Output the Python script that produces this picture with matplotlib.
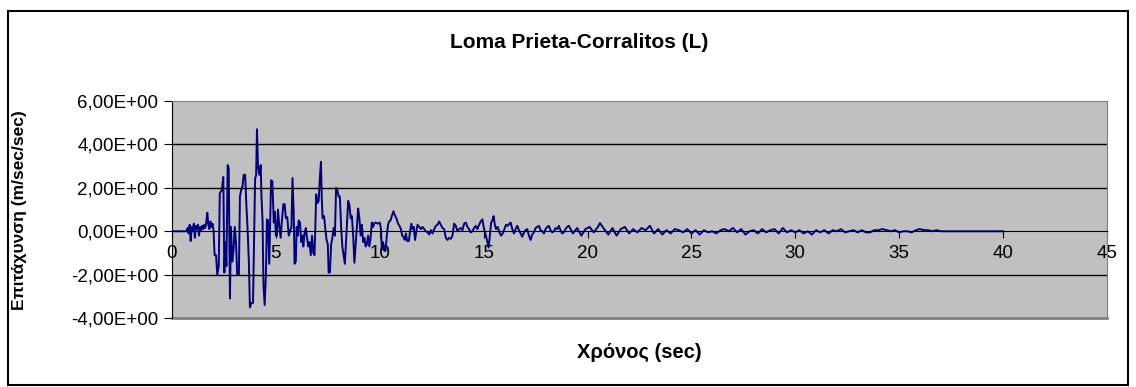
import matplotlib
matplotlib.use("Agg")
import matplotlib.pyplot as plt
from matplotlib.patches import Rectangle

plt.rcParams['font.family'] = ['Liberation Sans', 'DejaVu Sans']

# acceleration record, strong motion part (sec, m/sec/sec)
t_main = [0.00, 0.70, 0.75, 0.80, 0.85, 0.90, 0.95, 1.00, 1.05, 1.10, 1.15, 1.20, 1.25, 1.30,
          1.35, 1.40, 1.45, 1.50, 1.55, 1.60, 1.65, 1.70, 1.75, 1.80, 1.85, 1.90, 1.95, 2.00,
          2.05, 2.12, 2.18, 2.25, 2.30, 2.40, 2.47, 2.52, 2.57, 2.62, 2.68, 2.73, 2.79, 2.84,
          2.90, 2.96, 3.02, 3.08, 3.14, 3.22, 3.27, 3.33, 3.40, 3.45, 3.52, 3.58, 3.63, 3.70,
          3.75, 3.82, 3.90, 3.95, 4.00, 4.05, 4.09, 4.14, 4.20, 4.27, 4.31, 4.36, 4.40, 4.46,
          4.52, 4.57, 4.62, 4.68, 4.73, 4.77, 4.83, 4.90, 4.95, 5.00, 5.05, 5.10, 5.16, 5.23,
          5.30, 5.36, 5.42, 5.48, 5.55, 5.62, 5.68, 5.75, 5.80, 5.86, 5.90, 5.96, 6.00, 6.05,
          6.10, 6.16, 6.22, 6.28, 6.32, 6.38, 6.44, 6.50, 6.56, 6.62, 6.68, 6.74, 6.80, 6.86,
          6.90, 6.94, 7.00, 7.06, 7.12, 7.17, 7.21, 7.25, 7.32, 7.38, 7.44, 7.50, 7.54, 7.60,
          7.66, 7.72, 7.78, 7.84, 7.90, 7.96, 8.02, 8.08, 8.14, 8.20, 8.26, 8.32, 8.38, 8.44,
          8.48, 8.54, 8.60, 8.66, 8.72, 8.78, 8.84, 8.90, 8.96, 9.02, 9.08, 9.14, 9.20, 9.26,
          9.32, 9.38, 9.44, 9.50, 9.56, 9.62, 9.68, 9.74, 9.80, 9.90, 10.00, 10.06, 10.10,
          10.16, 10.22, 10.28, 10.34, 10.40, 10.45, 10.52, 10.58, 10.66, 10.72, 10.80, 10.88,
          10.95, 11.02, 11.08, 11.14, 11.20, 11.26, 11.32, 11.40, 11.46, 11.52, 11.58, 11.64,
          11.70, 11.76, 11.82, 11.90, 11.98, 12.06, 12.14, 12.22, 12.30, 12.38, 12.46, 12.54,
          12.62, 12.70, 12.78, 12.86, 12.94, 13.02, 13.10, 13.18, 13.26, 13.34, 13.42, 13.50,
          13.58, 13.66, 13.74, 13.82, 13.90, 13.98, 14.06, 14.14, 14.22, 14.30, 14.38, 14.46,
          14.54, 14.62, 14.70, 14.78, 14.86, 14.94, 15.00, 15.08, 15.16, 15.24, 15.30, 15.36,
          15.42, 15.48, 15.54, 15.60, 15.68, 15.76, 15.84, 15.92, 16.00, 16.08, 16.16, 16.24,
          16.30, 16.38, 16.46, 16.54, 16.62, 16.70, 16.78, 16.86, 16.94, 17.02, 17.10, 17.18,
          17.26, 17.34, 17.42, 17.50, 17.58, 17.66, 17.74, 17.82, 17.90, 17.98, 18.06, 18.14,
          18.22, 18.30, 18.38, 18.46, 18.54, 18.62, 18.70, 18.78, 18.86, 18.94, 19.02, 19.10]
a_main = [0.0, 0.0, 0.15, -0.1, 0.3, -0.45, 0.2, 0.05, 0.35, -0.3, 0.25, 0.1, 0.3, -0.2,
          0.2, 0.05, 0.25, 0.1, 0.3, 0.15, 0.4, 0.85, 0.3, 0.1, 0.45, 0.2, 0.35, 0.05,
          -1.1, -1.1, -2.0, -1.6, 1.75, 1.9, 2.5, -1.9, -0.5, -1.6, 3.05, 2.9, -3.1, 0.2,
          -1.4, -0.9, 0.2, -0.5, -2.0, -2.0, 1.6, 1.9, 2.1, 2.6, 2.6, 1.2, 0.3, -1.4,
          -3.5, -3.3, -3.3, -0.5, 2.4, 2.6, 4.7, 3.0, 2.6, 3.05, 1.5, 0.5, -2.4, -3.4,
          -2.0, 0.55, 0.5, -1.5, 0.6, 2.35, 2.3, 0.4, 0.9, -0.2, -0.2, 1.0, 0.3, -0.3,
          0.6, 1.25, 1.25, 0.6, 0.65, -0.2, 0.0, 0.2, 2.45, 0.8, -1.5, -1.4, 0.2, -0.2,
          0.5, 0.4, -0.5, -0.2, -0.7, -0.1, 0.15, -0.3, -0.7, -0.5, -1.1, -0.2, -1.0, -1.1,
          0.2, 1.7, 1.3, 1.4, 2.5, 3.2, 1.5, 0.6, 0.7, 0.1, -0.4, -0.6, -1.9, -1.9,
          -0.6, -0.3, 0.15, -0.2, 2.0, 1.9, 1.6, 1.6, 0.2, -0.7, -1.1, -1.5, -0.4, 0.7,
          1.4, 1.2, 0.6, 0.7, -0.2, -1.45, -0.6, 0.2, 1.05, 0.6, -0.2, 0.3, -0.5, -0.3,
          -0.7, -0.6, -0.2, -0.7, -0.3, 0.4, 0.2, 0.38, 0.4, 0.35, 0.4, 0.1, -0.85,
          -0.5, -0.9, -0.9, -0.2, 0.3, 0.45, 0.5, 0.7, 0.92, 0.75, 0.6, 0.35,
          0.25, 0.1, -0.2, -0.25, -0.4, -0.1, -0.45, -0.45, 0.0, 0.35, 0.1, 0.2,
          -0.4, 0.0, 0.3, 0.2, 0.1, 0.2, 0.1, 0.0, -0.05, -0.15, 0.05, -0.1,
          0.1, 0.25, 0.3, 0.45, 0.3, 0.15, 0.1, -0.3, -0.4, -0.3, -0.35, -0.2,
          0.35, 0.25, 0.0, 0.1, 0.15, 0.05, 0.35, 0.4, 0.2, 0.1, -0.05, 0.0,
          0.15, 0.25, 0.1, 0.3, 0.45, 0.55, 0.2, -0.1, -0.4, -0.75, -0.2, 0.4,
          0.5, 0.7, 0.3, 0.1, 0.2, -0.05, -0.2, -0.1, 0.1, 0.3, 0.25, 0.35,
          0.4, 0.1, -0.1, 0.1, 0.25, 0.05, -0.1, -0.25, -0.05, 0.05, 0.1, -0.2,
          -0.4, -0.15, -0.05, 0.15, 0.2, 0.25, 0.05, 0.0, -0.1, 0.1, 0.2, 0.25,
          0.05, -0.05, 0.0, 0.15, 0.1, 0.25, 0.05, -0.1, -0.05, 0.1, 0.2, 0.25]

# coda of the record
t_tail = [19.3, 19.5, 19.7, 19.9, 20.1, 20.3, 20.5, 20.6, 20.8, 21.0, 21.2, 21.4, 21.6, 21.8,
          22.0, 22.2, 22.4, 22.6, 22.8, 23.0, 23.2, 23.4, 23.6, 23.8, 24.0, 24.2, 24.4, 24.6,
          24.8, 25.0, 25.2, 25.4, 25.6, 25.8, 26.0, 26.2, 26.4, 26.6, 26.8, 27.0, 27.2, 27.4,
          27.6, 27.8, 28.0, 28.2, 28.4, 28.6, 28.8, 29.0, 29.2, 29.4, 29.6, 29.8, 30.0, 30.2,
          30.4, 30.6, 30.8, 31.0, 31.2, 31.4, 31.6, 31.8, 32.0, 32.2, 32.4, 32.6, 32.8, 33.0,
          33.2, 33.4, 33.6, 33.8, 34.0, 34.2, 34.4, 34.6, 34.8, 35.0, 35.2, 35.4, 35.6, 35.8,
          36.0, 36.2, 36.4, 36.6, 36.8, 37.0, 37.5, 38.0, 38.5, 39.0, 39.5, 40.0]
a_tail = [-0.1, 0.15, -0.2, 0.1, 0.2, -0.05, 0.2, 0.38, 0.1, -0.15, 0.15, -0.2, 0.1, 0.2,
          -0.1, 0.1, -0.05, 0.15, 0.05, 0.25, -0.1, 0.1, -0.15, 0.05, -0.1, 0.1, 0.05, -0.05,
          0.1, -0.1, 0.05, -0.15, 0.05, -0.05, 0.0, -0.1, 0.05, 0.1, 0.0, 0.15, -0.05, 0.1,
          -0.15, 0.0, 0.05, -0.1, 0.1, -0.05, 0.05, 0.1, -0.1, 0.15, -0.05, 0.05, -0.05, 0.05,
          -0.1, 0.0, -0.15, 0.05, -0.05, 0.05, -0.1, 0.05, 0.0, 0.1, -0.05, 0.0, 0.05, -0.05,
          0.05, -0.05, -0.05, 0.05, 0.05, 0.1, 0.05, 0.0, 0.05, -0.05, 0.0, 0.0, -0.05, 0.05,
          0.1, 0.05, 0.05, 0.0, 0.05, 0.0, 0.0, 0.0, 0.0, 0.0, 0.0, 0.0]

y_ticks = [-4, -2, 0, 2, 4, 6]
y_labels = ['-4,00E+00', '-2,00E+00', '0,00E+00', '2,00E+00', '4,00E+00', '6,00E+00']
x_ticks = [0, 5, 10, 15, 20, 25, 30, 35, 40, 45]

fig = plt.figure(figsize=(11.36, 3.87), dpi=100)
fig.patches.append(Rectangle((0.007, 0.005), 0.986, 0.966, transform=fig.transFigure,
                             fill=False, edgecolor='black', linewidth=1.5))

ax = fig.add_axes([0.1514, 0.178, 0.823, 0.561])
ax.set_facecolor('#c0c0c0')
ax.plot(t_main + t_tail, a_main + a_tail, color='#000080', linewidth=1.4)

ax.set_xlim(0, 45)
ax.set_ylim(-4, 6)
ax.set_yticks(y_ticks)
ax.set_yticklabels(y_labels)
ax.set_xticks(x_ticks)
ax.set_xticklabels([str(v) for v in x_ticks])

for v in [-2, 2, 4]:
    ax.axhline(v, color='black', linewidth=1)

ax.spines['left'].set_color('black')
ax.spines['bottom'].set_position(('data', 0))
ax.spines['bottom'].set_color('black')
for side in ['top', 'right']:
    ax.spines[side].set_color('#808080')
ax.axhline(-4, color='#808080', linewidth=2, clip_on=False)

ax.tick_params(axis='y', direction='out', length=6, labelsize=13.5, pad=4)
ax.tick_params(axis='x', direction='out', length=5, labelsize=13.5, pad=5)

fig.text(0.51, 0.889, 'Loma Prieta-Corralitos (L)', ha='center', va='center',
         fontsize=15, fontweight='bold')
fig.text(0.563, 0.088, 'Χρόνος (sec)', ha='center', va='center',
         fontsize=14.5, fontweight='bold')
fig.text(0.0176, 0.457, 'Επιτάχυνση (m/sec/sec)', ha='center', va='center',
         rotation=90, fontsize=12.5, fontweight='bold')

fig.savefig('out.png', dpi=100)
